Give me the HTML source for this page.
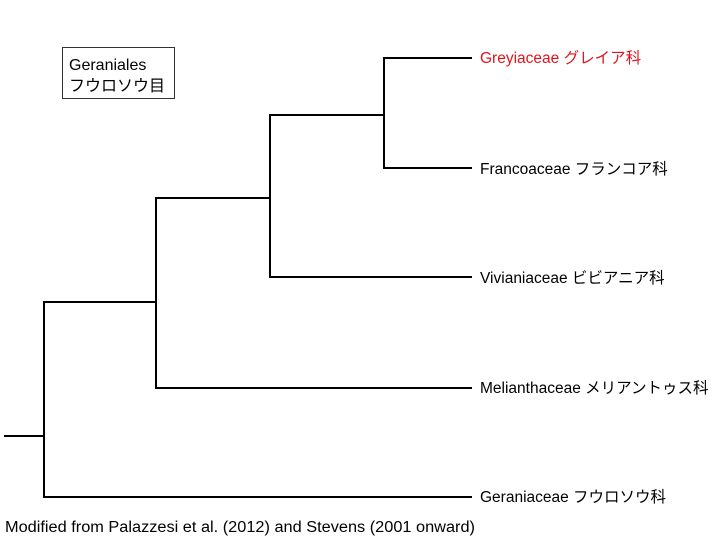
<!DOCTYPE html>
<html><head><meta charset="utf-8"><style>
html,body{margin:0;padding:0;background:#fff;}
svg{display:block;}
text{font-family:"Liberation Sans","Noto Sans CJK JP",sans-serif;font-size:15.5px;}
</style></head><body>
<svg width="720" height="540" viewBox="0 0 720 540" xmlns="http://www.w3.org/2000/svg">
<g stroke="#000" stroke-width="2" fill="none" stroke-linecap="square">
<line x1="5" y1="436" x2="44" y2="436"/>
<line x1="44" y1="302" x2="44" y2="497"/>
<line x1="44" y1="497" x2="471" y2="497"/>
<line x1="44" y1="302" x2="156" y2="302"/>
<line x1="156" y1="198" x2="156" y2="388"/>
<line x1="156" y1="388" x2="471" y2="388"/>
<line x1="156" y1="198" x2="270" y2="198"/>
<line x1="270" y1="115" x2="270" y2="277"/>
<line x1="270" y1="277" x2="471" y2="277"/>
<line x1="270" y1="115" x2="384" y2="115"/>
<line x1="384" y1="58" x2="384" y2="168"/>
<line x1="384" y1="58" x2="471" y2="58"/>
<line x1="384" y1="168" x2="471" y2="168"/>
</g>
<rect x="62.5" y="47.5" width="112" height="51" fill="none" stroke="#333" stroke-width="1"/>
<text x="69" y="70" style="font-size:16px">Geraniales</text>
<text x="69" y="91" style="font-size:16px">フウロソウ目</text>
<text x="480" y="63" fill="#e0141e">Greyiaceae グレイア科</text>
<text x="480" y="174">Francoaceae フランコア科</text>
<text x="480" y="283">Vivianiaceae ビビアニア科</text>
<text x="480" y="393">Melianthaceae メリアントゥス科</text>
<text x="480" y="502">Geraniaceae フウロソウ科</text>
<text x="5" y="532" textLength="470" lengthAdjust="spacingAndGlyphs">Modified from Palazzesi et al. (2012) and Stevens (2001 onward)</text>
</svg>
</body></html>
